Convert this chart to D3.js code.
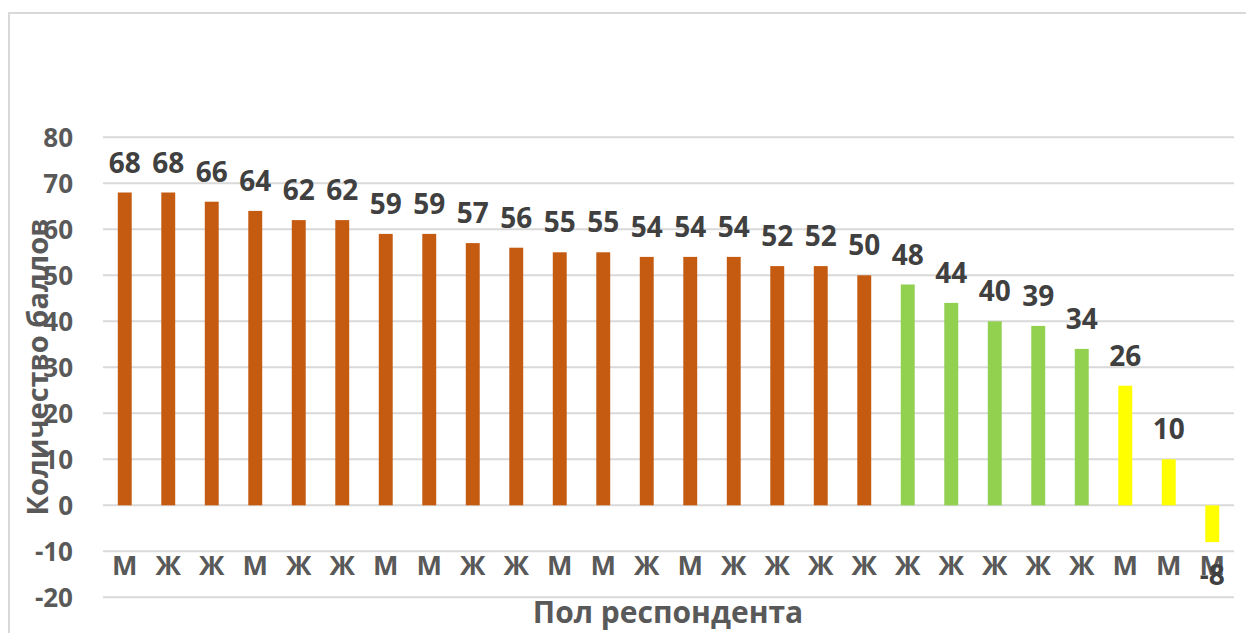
<!DOCTYPE html>
<html>
<head>
<meta charset="utf-8">
<script src="https://cdn.jsdelivr.net/npm/d3@7"></script>
<style>
  html, body { margin: 0; padding: 0; background: #fff; }
  svg { display: block; font-family: "Open Sans", "DejaVu Sans", sans-serif; }
</style>
</head>
<body>
<svg id="chart" width="1246" height="633"></svg>
<script>
// Respondent sex for each bar, left to right
const categories = ["М","Ж","Ж","М","Ж","Ж","М","М","Ж","Ж","М","М","Ж","М","Ж","Ж","Ж","Ж","Ж","Ж","Ж","Ж","Ж","М","М","М"];
// Score for each respondent
const scores = [68,68,66,64,62,62,59,59,57,56,55,55,54,54,54,52,52,50,48,44,40,39,34,26,10,-8];
// Score group for each bar (high / middle / low)
const groups = ["high","high","high","high","high","high","high","high","high","high","high","high","high","high","high","high","high","high","mid","mid","mid","mid","mid","low","low","low"];
const groupColors = { high: "#C55A11", mid: "#92D050", low: "#FFFF00" };
const yTicks = [-20,-10,0,10,20,30,40,50,60,70,80];
const yTitle = "Количество баллов";
const xTitle = "Пол респондента";

const data = scores.map((v, i) => ({ i, sex: categories[i], value: v, group: groups[i] }));
const fmt = v => String(v); // plain hyphen for negatives

const svg = d3.select("#chart");

// chart frame
svg.append("rect")
  .attr("x", 9).attr("y", 13)
  .attr("width", 1260).attr("height", 640)
  .attr("fill", "#fff")
  .attr("stroke", "#D9D9D9")
  .attr("stroke-width", 2);

const plot = { left: 103, right: 1234, top: 137.3, bottom: 597.3 };

const y = d3.scaleLinear().domain([-20, 80]).range([plot.bottom, plot.top]);
const x = d3.scaleBand()
  .domain(data.map(d => d.i))
  .range([plot.left, plot.right])
  .paddingInner(0.68)
  .paddingOuter(0.34);

// horizontal gridlines
svg.append("g")
  .selectAll("line")
  .data(yTicks)
  .join("line")
  .attr("x1", plot.left).attr("x2", plot.right)
  .attr("y1", d => y(d)).attr("y2", d => y(d))
  .attr("stroke", "#D9D9D9")
  .attr("stroke-width", 2);

// y axis tick labels
const yAxis = d3.axisLeft(y).tickValues(yTicks).tickFormat(fmt).tickSize(0).tickPadding(0);
const gy = svg.append("g").attr("transform", "translate(73,0)").call(yAxis);
gy.select(".domain").remove();
gy.selectAll("text")
  .attr("fill", "#595959")
  .style("font-size", "26px")
  .style("font-weight", "700")
  .style("font-family", "'Open Sans', sans-serif")
  .attr("dy", "0.36em");

// bars
svg.append("g")
  .selectAll("rect")
  .data(data)
  .join("rect")
  .attr("x", d => x(d.i))
  .attr("width", x.bandwidth())
  .attr("y", d => y(Math.max(0, d.value)))
  .attr("height", d => Math.abs(y(d.value) - y(0)))
  .attr("fill", d => groupColors[d.group]);

// x axis category labels
const xAxis = d3.axisBottom(x).tickFormat(i => categories[i]).tickSize(0).tickPadding(0);
const gx = svg.append("g").attr("transform", "translate(0,575)").call(xAxis);
gx.select(".domain").remove();
gx.selectAll("text")
  .attr("y", 0).attr("dy", 0)
  .attr("fill", "#595959")
  .style("font-size", "27px")
  .style("font-weight", "700")
  .style("font-family", "'Open Sans', sans-serif");

// value labels
svg.append("g")
  .selectAll("text")
  .data(data)
  .join("text")
  .attr("x", d => x(d.i) + x.bandwidth() / 2)
  .attr("y", d => d.value >= 0 ? y(d.value) - 20 : y(d.value) + 43)
  .attr("text-anchor", "middle")
  .attr("fill", "#404040")
  .style("font-size", "28px")
  .style("font-weight", "700")
  .text(d => fmt(d.value));

// axis titles
svg.append("text")
  .attr("transform", "translate(48,367) rotate(-90)")
  .attr("text-anchor", "middle")
  .attr("fill", "#595959")
  .style("font-size", "29px")
  .style("font-weight", "700")
  .text(yTitle);

svg.append("text")
  .attr("x", 668).attr("y", 623)
  .attr("text-anchor", "middle")
  .attr("fill", "#595959")
  .style("font-size", "30px")
  .style("font-weight", "700")
  .text(xTitle);
</script>
</body>
</html>
